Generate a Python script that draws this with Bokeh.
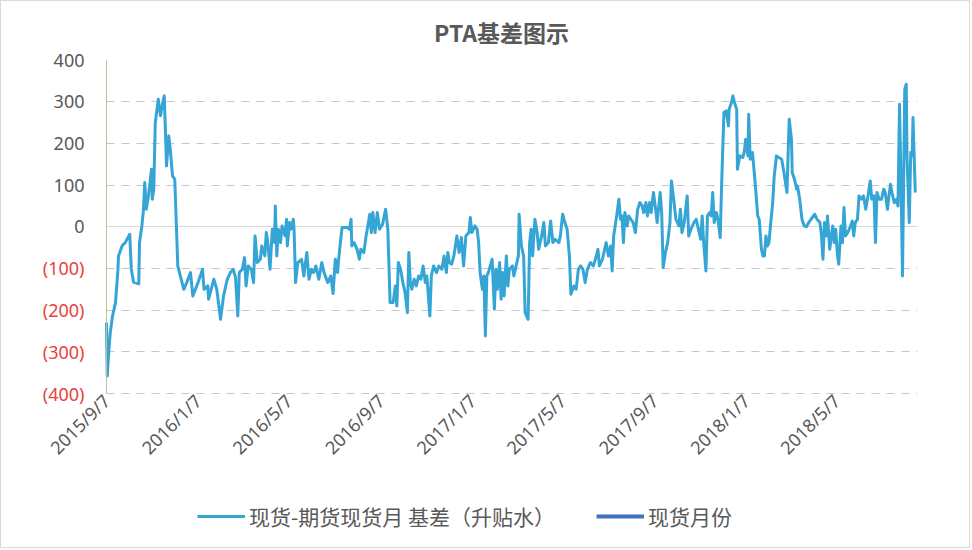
import math
import pandas as pd
from bokeh.plotting import figure
from bokeh.models import Range1d, FixedTicker, Legend, LegendItem, LinearAxis, Grid, Label
from bokeh.embed import file_html
from bokeh.resources import INLINE

# ---------------- data ----------------
dates = [
    "2015-09-07", "2015-09-08", "2015-09-10", "2015-09-12", "2015-09-15", "2015-09-19", "2015-09-22", "2015-09-23",
    "2015-09-28", "2015-10-02", "2015-10-08", "2015-10-10", "2015-10-13", "2015-10-20", "2015-10-21", "2015-10-24",
    "2015-10-26", "2015-10-28", "2015-10-30", "2015-11-02", "2015-11-06", "2015-11-07", "2015-11-09", "2015-11-11",
    "2015-11-14", "2015-11-15", "2015-11-18", "2015-11-21", "2015-11-23", "2015-11-26", "2015-11-29", "2015-12-01",
    "2015-12-04", "2015-12-07", "2015-12-11", "2015-12-19", "2015-12-23", "2015-12-28", "2015-12-31", "2016-01-07",
    "2016-01-13", "2016-01-15", "2016-01-20", "2016-01-21", "2016-01-28", "2016-02-01", "2016-02-06", "2016-02-10",
    "2016-02-15", "2016-02-19", "2016-02-23", "2016-02-26", "2016-02-29", "2016-03-02", "2016-03-06", "2016-03-09",
    "2016-03-11", "2016-03-14", "2016-03-18", "2016-03-21", "2016-03-23", "2016-03-26", "2016-03-30", "2016-04-01",
    "2016-04-05", "2016-04-07", "2016-04-09", "2016-04-12", "2016-04-15", "2016-04-18", "2016-04-19", "2016-04-21",
    "2016-04-23", "2016-04-26", "2016-04-28", "2016-05-02", "2016-05-04", "2016-05-05", "2016-05-08", "2016-05-10",
    "2016-05-13", "2016-05-14", "2016-05-16", "2016-05-19", "2016-05-24", "2016-05-27", "2016-05-31", "2016-06-03",
    "2016-06-06", "2016-06-09", "2016-06-12", "2016-06-16", "2016-06-20", "2016-06-23", "2016-06-28", "2016-07-02",
    "2016-07-05", "2016-07-08", "2016-07-11", "2016-07-12", "2016-07-15", "2016-07-17", "2016-07-24", "2016-07-27",
    "2016-07-29", "2016-07-30", "2016-08-02", "2016-08-06", "2016-08-09", "2016-08-11", "2016-08-15", "2016-08-18",
    "2016-08-23", "2016-08-25", "2016-08-27", "2016-08-30", "2016-09-02", "2016-09-05", "2016-09-09", "2016-09-13",
    "2016-09-16", "2016-09-19", "2016-09-23", "2016-09-26", "2016-09-28", "2016-09-30", "2016-10-03", "2016-10-06",
    "2016-10-09", "2016-10-12", "2016-10-14", "2016-10-16", "2016-10-18", "2016-10-21", "2016-10-24", "2016-10-27",
    "2016-10-30", "2016-11-02", "2016-11-05", "2016-11-07", "2016-11-11", "2016-11-13", "2016-11-16", "2016-11-20",
    "2016-11-23", "2016-11-27", "2016-11-30", "2016-12-03", "2016-12-05", "2016-12-07", "2016-12-10", "2016-12-13",
    "2016-12-15", "2016-12-17", "2016-12-20", "2016-12-23", "2016-12-26", "2016-12-29", "2017-01-02", "2017-01-04",
    "2017-01-06", "2017-01-10", "2017-01-13", "2017-01-15", "2017-01-17", "2017-01-20", "2017-01-22", "2017-01-24",
    "2017-01-26", "2017-01-28", "2017-02-02", "2017-02-05", "2017-02-07", "2017-02-09", "2017-02-12", "2017-02-14",
    "2017-02-16", "2017-02-18", "2017-02-21", "2017-02-23", "2017-02-25", "2017-03-01", "2017-03-03", "2017-03-06",
    "2017-03-09", "2017-03-10", "2017-03-13", "2017-03-16", "2017-03-18", "2017-03-22", "2017-03-24", "2017-03-26",
    "2017-03-28", "2017-03-31", "2017-04-03", "2017-04-05", "2017-04-09", "2017-04-12", "2017-04-14", "2017-04-18",
    "2017-04-21", "2017-04-24", "2017-04-27", "2017-05-02", "2017-05-04", "2017-05-07", "2017-05-10", "2017-05-13",
    "2017-05-16", "2017-05-18", "2017-05-22", "2017-05-25", "2017-05-28", "2017-05-31", "2017-06-03", "2017-06-06",
    "2017-06-09", "2017-06-13", "2017-06-17", "2017-06-21", "2017-06-23", "2017-06-25", "2017-06-29", "2017-07-01",
    "2017-07-04", "2017-07-07", "2017-07-10", "2017-07-12", "2017-07-14", "2017-07-18", "2017-07-21", "2017-07-23",
    "2017-07-25", "2017-07-27", "2017-07-29", "2017-08-01", "2017-08-03", "2017-08-06", "2017-08-09", "2017-08-12",
    "2017-08-15", "2017-08-18", "2017-08-21", "2017-08-23", "2017-08-26", "2017-08-28", "2017-08-31", "2017-09-02",
    "2017-09-05", "2017-09-08", "2017-09-10", "2017-09-14", "2017-09-16", "2017-09-18", "2017-09-21", "2017-09-24",
    "2017-09-27", "2017-09-29", "2017-10-02", "2017-10-05", "2017-10-09", "2017-10-11", "2017-10-13", "2017-10-16",
    "2017-10-20", "2017-10-22", "2017-10-25", "2017-10-29", "2017-11-01", "2017-11-04", "2017-11-07", "2017-11-09",
    "2017-11-11", "2017-11-14", "2017-11-16", "2017-11-19", "2017-11-21", "2017-11-23", "2017-11-25", "2017-11-28",
    "2017-11-30", "2017-12-03", "2017-12-05", "2017-12-08", "2017-12-11", "2017-12-14", "2017-12-15", "2017-12-18",
    "2017-12-20", "2017-12-22", "2017-12-25", "2017-12-26", "2017-12-29", "2018-01-02", "2018-01-04", "2018-01-06",
    "2018-01-09", "2018-01-10", "2018-01-12", "2018-01-15", "2018-01-17", "2018-01-20", "2018-01-22", "2018-01-24",
    "2018-01-27", "2018-01-29", "2018-01-31", "2018-02-02", "2018-02-04", "2018-02-06", "2018-02-08", "2018-02-11",
    "2018-02-13", "2018-02-16", "2018-02-19", "2018-02-23", "2018-02-26", "2018-03-02", "2018-03-04", "2018-03-05",
    "2018-03-08", "2018-03-09", "2018-03-12", "2018-03-15", "2018-03-16", "2018-03-19", "2018-03-22", "2018-03-25",
    "2018-03-28", "2018-03-31", "2018-04-03", "2018-04-08", "2018-04-11", "2018-04-15", "2018-04-17", "2018-04-19",
    "2018-04-21", "2018-04-24", "2018-04-25", "2018-04-28", "2018-05-02", "2018-05-04", "2018-05-06", "2018-05-08",
    "2018-05-10", "2018-05-13", "2018-05-15", "2018-05-17", "2018-05-19", "2018-05-22", "2018-05-26", "2018-05-28",
    "2018-05-30", "2018-06-01", "2018-06-04", "2018-06-06", "2018-06-09", "2018-06-12", "2018-06-15", "2018-06-18",
    "2018-06-21", "2018-06-23", "2018-06-26", "2018-06-28", "2018-06-30", "2018-07-03", "2018-07-06", "2018-07-09",
    "2018-07-11", "2018-07-14", "2018-07-16", "2018-07-18", "2018-07-20", "2018-07-23", "2018-07-26", "2018-07-28",
    "2018-07-30", "2018-08-01", "2018-08-03", "2018-08-06", "2018-08-08", "2018-08-09", "2018-08-12", "2018-08-14",
    "2018-08-16", "2018-08-17", "2018-08-20",
]

basis = [
    -230, -358, -300, -254, -214, -182, -110, -70,
    -45, -38, -18, -100, -133, -137, -38, 0,
    35, 106, 42, 75, 138, 66, 90, 250,
    290, 306, 266, 298, 314, 146, 218, 186,
    122, 114, -94, -150, -134, -110, -166, -134,
    -102, -150, -142, -174, -126, -150, -222, -166,
    -126, -110, -102, -122, -214, -110, -102, -74,
    -142, -94, -102, -134, -22, -86, -78, -46,
    -70, -14, -38, -102, -6, -38, 50, -70,
    -6, -38, 2, -22, 18, -46, 10, -6,
    18, -6, -134, -86, -78, -118, -62, -126,
    -102, -110, -94, -126, -86, -110, -134, -118,
    -160, -78, -110, -86, -34, -2, -2, -6,
    18, -46, -38, -54, -78, -54, -62, -22,
    30, -14, 34, -14, 34, -6, 6, 42,
    -6, -182, -182, -142, -190, -86, -102, -134,
    -158, -206, -62, -134, -150, -126, -142, -118,
    -126, -94, -134, -118, -214, -118, -94, -110,
    -94, -102, -70, -110, -62, -86, -90, -70,
    -46, -22, -62, -26, -94, -22, -14, 22,
    -14, 2, -6, -38, -110, -150, -118, -262,
    -118, -110, -78, -198, -102, -150, -86, -174,
    -110, -166, -70, -142, -102, -94, -118, -94,
    -70, 30, -46, -70, -206, -222, -38, -6,
    -70, 18, -14, -54, -22, 10, -46, -38,
    14, -38, -30, -38, -22, 30, 10, -6,
    -70, -162, -142, -150, -102, -94, -102, -134,
    -102, -86, -94, -70, -54, -94, -78, -62,
    -38, -70, -46, -106, -22, 26, 66, 18,
    26, -38, 34, 2, 26, 18, 10, -14,
    42, 58, 50, 34, 58, 26, 58, 34,
    82, 42, 10, 82, 34, -98, -62, -38,
    10, 110, 66, 18, 2, 42, -14, 10,
    74, -22, -6, 10, 18, -6, -30, 26,
    -38, -106, 26, 34, 26, 82, 10, 34,
    18, -26, 106, 274, 278, 242, 282, 298,
    314, 298, 282, 138, 170, 166, 178, 210,
    170, 270, 162, 178, 138, 74, 26, 18,
    -54, -70, -70, -22, -46, -38, 2, 58,
    122, 170, 166, 162, 130, 82, 202, 258,
    210, 130, 114, 90, 98, 66, 18, 2,
    0, 10, 18, 30, 18, 10, -22, -78,
    10, -22, 26, -54, 2, -38, -6, -62,
    -90, 2, -38, 46, -22, -14, 2, 14,
    -22, 10, 18, 74, 66, 74, 42, 74,
    110, 66, 74, -38, 82, 66, 66, 90,
    82, 42, 74, 102, 82, 58, 66, 50,
    294, 106, -118, 330, 342, 170, 10, 178,
    170, 262, 82,
]

# second legend series: it has no visible points in the picture
spot_month_dates = ["2015-09-07"]
spot_month_values = [float("nan")]

series_names = ["现货-期货现货月 基差（升贴水）", "现货月份"]
title_text = "PTA基差图示"

x_tick_dates = ["2015-09-07", "2016-01-07", "2016-05-07", "2016-09-07", "2017-01-07",
                "2017-05-07", "2017-09-07", "2018-01-07", "2018-05-07"]
x_tick_labels = ["2015/9/7", "2016/1/7", "2016/5/7", "2016/9/7", "2017/1/7",
                 "2017/5/7", "2017/9/7", "2018/1/7", "2018/5/7"]
y_ticks = [-400, -300, -200, -100, 0, 100, 200, 300, 400]
y_tick_labels = ["(400)", "(300)", "(200)", "(100)", "0", "100", "200", "300", "400"]
x_start, x_end = "2015-09-07", "2018-08-23"
y_min, y_max = -400, 400


def ms(s):
    return float(pd.Timestamp(s).value // 10**6)


# ---------------- layout (page pixels) ----------------
W, H = 970, 548                      # plus a 1px border -> 972 x 550
FRAME_L, FRAME_R, FRAME_T, FRAME_B = 30, 969, 1, 546
AXIS_X, DATA_R = 106, 917            # where x_start / x_end sit
Y_MAX_PX, Y_MIN_PX = 59.5, 393       # where y_max / y_min sit
TITLE_X, TITLE_Y = 501, 31           # title centre
LEGEND_X, LEGEND_UP = 197, 15        # legend left, legend bottom above frame bottom

px_per_ms = (DATA_R - AXIS_X) / (ms(x_end) - ms(x_start))
x_lo = ms(x_start) - (AXIS_X - FRAME_L) / px_per_ms
x_hi = ms(x_end) + (FRAME_R - DATA_R) / px_per_ms
px_per_unit = (Y_MIN_PX - Y_MAX_PX) / (y_max - y_min)
y_lo = y_min - (FRAME_B - Y_MIN_PX) / px_per_unit
y_hi = y_max + (Y_MAX_PX - FRAME_T) / px_per_unit

GRAY = "#595959"
RED = "#E8413C"
LINE_BLUE = "#35A5D5"
DARK_BLUE = "#3F73C0"
LABEL_FONT = "Noto Sans"
LABEL_SIZE = "18px"

p = figure(width=W, height=H, x_axis_type="datetime",
           output_backend="svg", toolbar_location=None,
           x_range=Range1d(x_lo, x_hi), y_range=Range1d(y_lo, y_hi),
           min_border_left=FRAME_L - 1, min_border_right=W - (FRAME_R - 1),
           min_border_top=FRAME_T - 1, min_border_bottom=H - (FRAME_B - 1),
           styles={"border": "1px solid #d9d9d9"})
p.outline_line_color = None
p.background_fill_color = "white"
p.border_fill_color = "white"
p.title.visible = False

# chart title (inside the drawing area)
p.add_layout(Label(x=x_lo + (TITLE_X - FRAME_L) / px_per_ms,
                   y=y_hi - (TITLE_Y - FRAME_T) / px_per_unit,
                   text=title_text, text_align="center", text_baseline="middle",
                   text_font="Noto Sans CJK SC", text_font_size="23px",
                   text_font_style="bold", text_color=GRAY))

# grid lines between the first and last date: dashed, zero line solid
p.xgrid.grid_line_color = None
p.ygrid.grid_line_color = None
dash_ticks = [t for t in y_ticks if t not in (0, y_max)]
p.add_layout(Grid(dimension=1, ticker=FixedTicker(ticks=dash_ticks), grid_line_color="#c3c6cc",
                  grid_line_dash="8 7", grid_line_width=1, cross_bounds=(ms(x_start), ms(x_end))))
p.add_layout(Grid(dimension=1, ticker=FixedTicker(ticks=[0]), grid_line_color="#d9d9d9",
                  grid_line_width=1, cross_bounds=(ms(x_start), ms(x_end))))

# y axis: grey non-negative labels, placed at the first date
pos_ticks = [t for t in y_ticks if t >= 0]
yax = p.yaxis[0]
yax.fixed_location = ms(x_start)
yax.bounds = (y_min, y_max)
yax.ticker = FixedTicker(ticks=pos_ticks)
yax.major_label_overrides = {t: lab for t, lab in zip(y_ticks, y_tick_labels) if t >= 0}
yax.axis_line_color = "#c4bd97"
yax.major_tick_line_color = None
yax.minor_tick_line_color = None
yax.major_tick_out = 0
yax.major_tick_in = 0
yax.minor_tick_out = 0
yax.minor_tick_in = 0
yax.major_label_standoff = 22
yax.major_label_text_font = LABEL_FONT
yax.major_label_text_font_size = LABEL_SIZE
yax.major_label_text_color = GRAY

# y axis: red negative labels in parentheses, same place
neg_ticks = [t for t in y_ticks if t < 0]
yax_neg = LinearAxis(fixed_location=ms(x_start), bounds=(y_min, y_max),
                     ticker=FixedTicker(ticks=neg_ticks),
                     major_label_overrides={t: lab for t, lab in zip(y_ticks, y_tick_labels) if t < 0},
                     axis_line_color=None, major_tick_line_color=None, minor_tick_line_color=None,
                     major_tick_out=0, major_tick_in=0, minor_tick_out=0, minor_tick_in=0,
                     major_label_standoff=22,
                     major_label_text_font=LABEL_FONT, major_label_text_font_size=LABEL_SIZE,
                     major_label_text_color=RED)
p.add_layout(yax_neg, "left")

# x axis: date labels under the -400 line
xax = p.xaxis[0]
xax.fixed_location = y_min
xax.bounds = (ms(x_start), ms(x_end))
xax.ticker = FixedTicker(ticks=[ms(d) for d in x_tick_dates])
xax.major_label_overrides = {ms(d): lab for d, lab in zip(x_tick_dates, x_tick_labels)}
xax.major_label_orientation = math.pi / 4
xax.axis_line_color = None
xax.major_tick_line_color = None
xax.minor_tick_line_color = None
xax.major_tick_out = 0
xax.major_tick_in = 0
xax.minor_tick_out = 0
xax.minor_tick_in = 0
xax.major_label_standoff = 4
xax.major_label_text_font = LABEL_FONT
xax.major_label_text_font_size = "18px"
xax.major_label_text_color = GRAY

# series
r1 = p.line(pd.to_datetime(dates), basis, line_color=LINE_BLUE, line_width=3, line_join="round")
r2 = p.line(pd.to_datetime(spot_month_dates), spot_month_values, line_color=DARK_BLUE, line_width=4)

legend = Legend(items=[LegendItem(label=series_names[0], renderers=[r1]),
                       LegendItem(label=series_names[1], renderers=[r2])],
                orientation="horizontal", location=(LEGEND_X - FRAME_L, LEGEND_UP),
                glyph_width=48, glyph_height=20, label_standoff=4, spacing=41,
                padding=0, margin=0, border_line_color=None, background_fill_alpha=0,
                label_text_font="Noto Sans CJK SC", label_text_font_size="21px",
                label_text_color=GRAY)
p.add_layout(legend)

open("out.html", "w").write(file_html(p, INLINE))
